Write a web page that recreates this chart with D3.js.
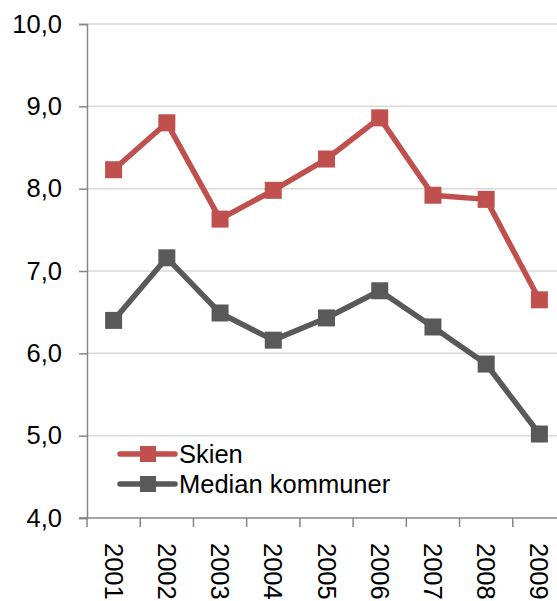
<!DOCTYPE html>
<html>
<head>
<meta charset="utf-8">
<script src="https://cdn.jsdelivr.net/npm/d3@7"></script>
<style>
  body { margin: 0; background: #fff; }
  text { font-family: "Liberation Sans", Arial, sans-serif; fill: #000; }
</style>
</head>
<body>
<svg width="557" height="601"></svg>
<script>
// chart data
var years = ["2001", "2002", "2003", "2004", "2005", "2006", "2007", "2008", "2009"];
var skien = [8.23, 8.80, 7.63, 7.98, 8.36, 8.86, 7.92, 7.87, 6.65];
var median = [6.40, 7.16, 6.49, 6.16, 6.43, 6.76, 6.32, 5.87, 5.02];
var yTicks = [4, 5, 6, 7, 8, 9, 10];
var seriesNames = ["Skien", "Median kommuner"];
var colors = ["#C0504D", "#595959"];

var svg = d3.select("svg");
var plotLeft = 87, plotRight = 566, plotTop = 24, plotBottom = 518;
var fontSize = "25.5px";

var x = d3.scaleBand().domain(years).range([plotLeft, plotRight]);
var y = d3.scaleLinear().domain([4, 10]).range([plotBottom, plotTop]);
var fmt = d3.formatLocale({decimal: ",", thousands: " ", grouping: [3], currency: ["", ""]}).format(".1f");

// gridlines
svg.append("g").selectAll("line").data(yTicks.slice(1)).enter().append("line")
    .attr("x1", plotLeft).attr("x2", plotRight)
    .attr("y1", function (d) { return y(d); })
    .attr("y2", function (d) { return y(d); })
    .attr("stroke", "#d9d9d9").attr("stroke-width", 1.5);

// y axis
var yAxis = svg.append("g").attr("transform", "translate(" + plotLeft + ",0)")
    .call(d3.axisLeft(y).tickValues(yTicks).tickFormat(fmt).tickSize(8).tickPadding(17));
yAxis.select(".domain").attr("stroke", "#868686").attr("stroke-width", 1.5);
yAxis.selectAll(".tick line").attr("stroke", "#868686").attr("stroke-width", 1.5);
yAxis.selectAll("text").style("font-size", fontSize).attr("fill", "#000")
    .style("font-family", "'Liberation Sans', Arial, sans-serif");

// x axis line and ticks at category boundaries
svg.append("line").attr("x1", plotLeft - 8).attr("x2", plotRight)
    .attr("y1", plotBottom).attr("y2", plotBottom)
    .attr("stroke", "#868686").attr("stroke-width", 1.5);
svg.append("g").selectAll("line").data(years).enter().append("line")
    .attr("x1", function (d) { return x(d); })
    .attr("x2", function (d) { return x(d); })
    .attr("y1", plotBottom).attr("y2", plotBottom + 9)
    .attr("stroke", "#868686").attr("stroke-width", 1.5);

// rotated year labels
svg.append("g").selectAll("text").data(years).enter().append("text")
    .attr("transform", function (d) {
        return "translate(" + (x(d) + x.bandwidth() / 2) + ",543) rotate(90)";
    })
    .attr("dy", "0.35em")
    .style("font-size", fontSize)
    .text(function (d) { return d; });

// series
var line = d3.line()
    .x(function (d, i) { return x(years[i]) + x.bandwidth() / 2; })
    .y(function (d) { return y(d); });

var ms = 17;
[skien, median].forEach(function (vals, k) {
    svg.append("path").datum(vals)
        .attr("d", line).attr("fill", "none")
        .attr("stroke", colors[k]).attr("stroke-width", 5.5)
        .attr("stroke-linejoin", "round");
    svg.append("g").selectAll("rect").data(vals).enter().append("rect")
        .attr("x", function (d, i) { return x(years[i]) + x.bandwidth() / 2 - ms / 2; })
        .attr("y", function (d) { return y(d) - ms / 2; })
        .attr("width", ms).attr("height", ms)
        .attr("fill", colors[k]);
});

// legend
var legend = svg.append("g").selectAll("g").data(seriesNames).enter().append("g")
    .attr("transform", function (d, i) { return "translate(120," + (454 + i * 30) + ")"; });
legend.append("line").attr("x1", 0).attr("x2", 55)
    .attr("stroke", function (d, i) { return colors[i]; })
    .attr("stroke-width", 5.5).attr("stroke-linecap", "round");
legend.append("rect").attr("x", 28 - 8).attr("y", -8).attr("width", 16).attr("height", 16)
    .attr("fill", function (d, i) { return colors[i]; });
legend.append("text").attr("x", 59).attr("dy", "0.35em")
    .style("font-size", fontSize)
    .text(function (d) { return d; });
</script>
</body>
</html>
